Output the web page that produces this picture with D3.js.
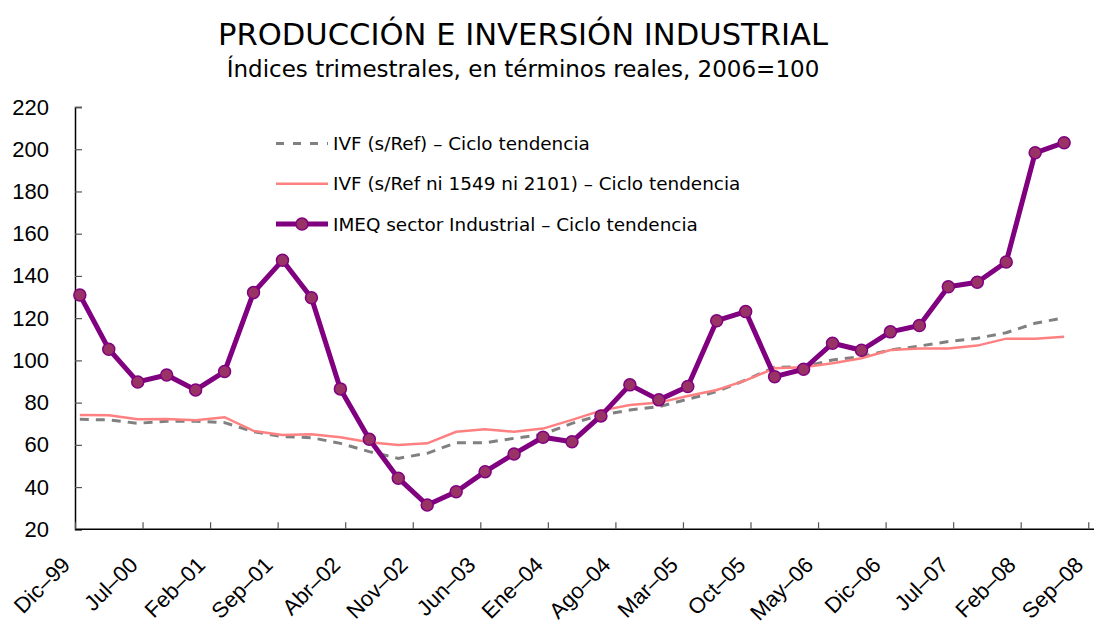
<!DOCTYPE html>
<html>
<head>
<meta charset="utf-8">
<script src="https://cdn.jsdelivr.net/npm/d3@7"></script>
<style>
  body { margin: 0; background: #fff; }
  svg { display: block; font-family: "DejaVu Sans", sans-serif; }
</style>
</head>
<body>
<div id="grafico"></div>
<script>
// meses contados desde Dic-99 (0), datos trimestrales hasta Jun-08
var meses = [];
for (var i = 0; i < 35; i++) meses.push(i * 3);

var ivfRef = [72.1, 71.8, 70.2, 71.2, 71.2, 70.5, 66.2, 63.9, 63.4, 60.7, 56.8,
              53.6, 56, 61, 61, 63.1, 65, 70.2, 74.1, 76.5, 78.1, 81.6, 85.2,
              90.7, 96.7, 97, 100.2, 101.8, 104.9, 106.8, 108.9, 110.5, 113.1, 117.6, 120.2];
var ivfSin = [74.1, 74, 72.1, 72.2, 71.6, 73.1, 66.6, 64.7, 65, 63.6, 61.2,
              59.9, 60.7, 66.2, 67.4, 66.2, 67.7, 71.8, 76.2, 78.9, 80, 83.1, 86,
              90.5, 96.3, 96.7, 98.6, 101, 104.9, 105.6, 105.6, 107, 110.3, 110.3, 111.2];
var imeq = [131, 105.3, 89.8, 93.1, 86, 94.7, 132.1, 147.4, 129.7, 86.5, 62.6,
            44.2, 31.5, 37.8, 47.3, 55.7, 63.6, 61.5, 73.7, 88.4, 81.3, 87.6, 118.8,
            123.1, 92.3, 95.8, 108.1, 104.8, 113.5, 116.5, 134.9, 137, 146.6, 198.3, 203.1];

var etiquetas = ["Dic–99", "Jul–00", "Feb–01", "Sep–01", "Abr–02", "Nov–02", "Jun–03", "Ene–04",
                 "Ago–04", "Mar–05", "Oct–05", "May–06", "Dic–06", "Jul–07", "Feb–08", "Sep–08"];
var marcasY = [20, 40, 60, 80, 100, 120, 140, 160, 180, 200, 220];

var nombres = ["IVF (s/Ref) – Ciclo tendencia",
               "IVF (s/Ref ni 1549 ni 2101) – Ciclo tendencia",
               "IMEQ sector Industrial – Ciclo tendencia"];

var ancho = 1094, alto = 624;
var x0 = 75, y0 = 529.3, ytop = 107;
var pxMes = 9.65;

var svg = d3.select("#grafico").append("svg")
    .attr("width", ancho).attr("height", alto);

// un mes = una categoria, el punto va en el centro del mes
var x = d3.scaleLinear().domain([0, 106]).range([x0, x0 + 106 * pxMes]);
var y = d3.scaleLinear().domain([20, 220]).range([y0, ytop]);

// titulos
svg.append("text").attr("x", 523).attr("y", 45).attr("text-anchor", "middle")
   .style("font-size", "30.6px").text("PRODUCCIÓN E INVERSIÓN INDUSTRIAL");
svg.append("text").attr("x", 523).attr("y", 77).attr("text-anchor", "middle")
   .style("font-size", "23px").text("Índices trimestrales, en términos reales, 2006=100");

// eje y
var ejeY = svg.append("g").attr("transform", "translate(" + x0 + ",0)")
   .call(d3.axisLeft(y).tickValues(marcasY).tickSize(-7).tickPadding(26).tickFormat(d3.format("d")));
ejeY.selectAll("text").style("font-size", "22px").style("fill", "#000");

// eje x
var ejeX = svg.append("g").attr("transform", "translate(0," + y0 + ")")
   .call(d3.axisBottom(x).tickValues(etiquetas.map(function(d, i) { return i * 7; }))
        .tickSize(-7).tickFormat(function(d, i) { return etiquetas[i]; }));
ejeX.selectAll("text")
   .style("font-size", "22px").style("fill", "#000")
   .attr("text-anchor", "end")
   .attr("dy", null).attr("y", null)
   .attr("transform", "translate(-4,37) rotate(-45)");
svg.selectAll(".domain").attr("stroke", "#000").attr("stroke-width", 1.5);
svg.selectAll(".tick line").attr("stroke", "#555").attr("stroke-width", 1.2);
ejeX.select(".domain").attr("d", "M" + x0 + ",0H" + ancho);

function linea(valores) {
  return d3.line()
    .x(function(d, i) { return x(meses[i] + 0.5); })
    .y(function(d) { return y(d); })(valores);
}

svg.append("path").attr("d", linea(ivfRef)).attr("fill", "none")
   .attr("stroke", "#808080").attr("stroke-width", 3).attr("stroke-dasharray", "9,7");
svg.append("path").attr("d", linea(ivfSin)).attr("fill", "none")
   .attr("stroke", "#FF8080").attr("stroke-width", 2.5);
svg.append("path").attr("d", linea(imeq)).attr("fill", "none")
   .attr("stroke", "#800080").attr("stroke-width", 5).attr("stroke-linejoin", "round");
svg.selectAll(".punto").data(imeq).enter().append("circle")
   .attr("class", "punto")
   .attr("cx", function(d, i) { return x(meses[i] + 0.5); })
   .attr("cy", function(d) { return y(d); })
   .attr("r", 6).attr("fill", "#993366").attr("stroke", "#800080").attr("stroke-width", 1.5);

// leyenda
var ley = svg.append("g");
var estilos = [
  {color: "#808080", w: 3, dash: "8,9"},
  {color: "#FF8080", w: 2.5, dash: null},
  {color: "#800080", w: 5, dash: null}
];
nombres.forEach(function(n, i) {
  var ly = 143.5 + i * 40.3;
  ley.append("line").attr("x1", 276).attr("x2", 328).attr("y1", ly).attr("y2", ly)
     .attr("stroke", estilos[i].color).attr("stroke-width", estilos[i].w)
     .attr("stroke-dasharray", estilos[i].dash);
  if (i == 2) {
    ley.append("circle").attr("cx", 302).attr("cy", ly).attr("r", 6)
       .attr("fill", "#993366").attr("stroke", "#800080").attr("stroke-width", 1.5);
  }
  ley.append("text").attr("x", 333).attr("y", ly).attr("dy", "0.36em")
     .style("font-size", "18.4px").text(n);
});
</script>
</body>
</html>
